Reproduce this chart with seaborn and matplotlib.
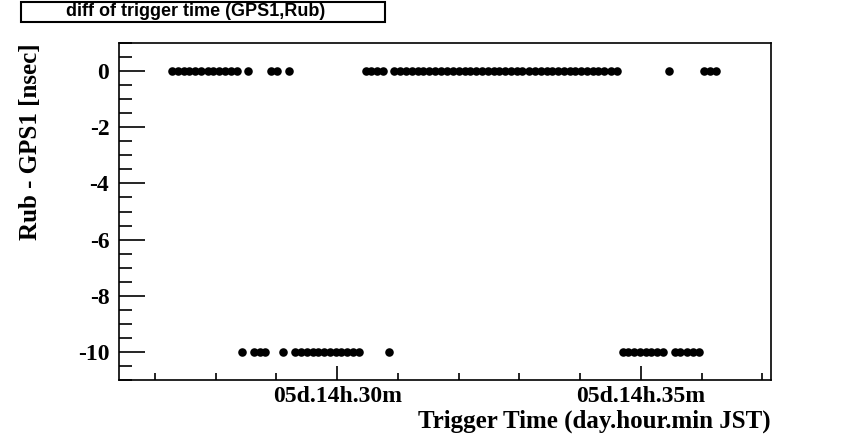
import numpy as np
import pandas as pd
import matplotlib
matplotlib.use("Agg")
import matplotlib.pyplot as plt
import matplotlib.patches as patches
from matplotlib.ticker import MultipleLocator, FixedLocator
import seaborn as sns

sns.set_theme(style="white")
plt.rcParams["font.family"] = ["Liberation Serif", "DejaVu Serif"]
plt.rcParams["font.weight"] = "bold"
plt.rcParams["axes.unicode_minus"] = False
plt.rcParams["text.color"] = "black"
plt.rcParams["axes.labelcolor"] = "black"
plt.rcParams["xtick.color"] = "black"
plt.rcParams["ytick.color"] = "black"

# trigger times, seconds after 14:00 on day 05
trig_sec = [1637, 1643, 1649, 1654, 1660, 1666, 1672, 1677, 1683, 1689,
            1695, 1701, 1706, 1712, 1718, 1724, 1729, 1735, 1741, 1747,
            1752, 1758, 1764, 1770, 1776, 1781, 1787, 1793, 1799, 1804,
            1810, 1816, 1822, 1828, 1833, 1839, 1845, 1851, 1856, 1862,
            1868, 1874, 1880, 1885, 1891, 1897, 1903, 1908, 1914, 1920,
            1926, 1931, 1937, 1943, 1949, 1955, 1960, 1966, 1972, 1978,
            1983, 1989, 1995, 2001, 2007, 2012, 2018, 2024, 2030, 2035,
            2041, 2047, 2053, 2058, 2064, 2070, 2076, 2082, 2087, 2093,
            2099, 2105, 2110, 2116, 2122, 2128, 2134, 2139, 2145, 2151,
            2157, 2162, 2168, 2174]

# Rub - GPS1 [nsec], one per trigger
diff_ns = [0, 0, 0, 0, 0, 0, 0, 0, 0, 0,
           0, 0, -10, 0, -10, -10, -10, 0, 0, -10,
           0, -10, -10, -10, -10, -10, -10, -10, -10, -10,
           -10, -10, -10, 0, 0, 0, 0, -10, 0, 0,
           0, 0, 0, 0, 0, 0, 0, 0, 0, 0,
           0, 0, 0, 0, 0, 0, 0, 0, 0, 0,
           0, 0, 0, 0, 0, 0, 0, 0, 0, 0,
           0, 0, 0, 0, 0, 0, 0, -10, -10, -10,
           -10, -10, -10, -10, -10, 0, -10, -10, -10, -10,
           -10, 0, 0, 0]

major_min = [30, 35]
major_labels = ["05d.14h.30m", "05d.14h.35m"]
minor_min = [27, 28, 29, 31, 32, 33, 34, 36, 37]

df = pd.DataFrame({"minute": np.array(trig_sec) / 60.0, "diff": diff_ns})

fig = plt.figure(figsize=(8.57, 4.37), dpi=100)
ax = fig.add_axes([0.1389, 0.1304, 0.7607, 0.7712])

sns.scatterplot(data=df, x="minute", y="diff", ax=ax, color="black",
                s=38, edgecolor="black", linewidth=0, legend=False)

ax.set_xlim(26.41, 37.14)
ax.set_ylim(-11, 1)

ax.xaxis.set_major_locator(FixedLocator(major_min))
ax.set_xticklabels(major_labels)
ax.xaxis.set_minor_locator(FixedLocator(minor_min))
ax.yaxis.set_major_locator(MultipleLocator(2))
ax.yaxis.set_minor_locator(MultipleLocator(0.5))

ax.tick_params(axis="x", which="major", direction="in", length=10, width=1.2,
               labelsize=17, pad=4, top=False, bottom=True)
ax.tick_params(axis="x", which="minor", direction="in", length=5, width=1.2,
               top=False, bottom=True)
ax.tick_params(axis="y", which="major", direction="in", length=19, width=1.2,
               labelsize=17, pad=7, left=True, right=False)
ax.tick_params(axis="y", which="minor", direction="in", length=9, width=1.2,
               left=True, right=False)
for lab in ax.get_xticklabels() + ax.get_yticklabels():
    lab.set_fontweight("bold")

for sp in ax.spines.values():
    sp.set_color("black")
    sp.set_linewidth(1.2)

ax.set_xlabel("Trigger Time (day.hour.min JST)", fontsize=18,
              fontweight="bold", loc="right")
ax.xaxis.set_label_coords(1.0, -0.088)
ax.set_ylabel("Rub - GPS1 [nsec]", fontsize=18, fontweight="bold",
              loc="top")
ax.yaxis.set_label_coords(-0.118, 1.0)

# title box
fig.patches.append(patches.Rectangle((21 / 857, 1 - 22 / 437), 364 / 857,
                                     20 / 437, transform=fig.transFigure,
                                     facecolor="white", edgecolor="black",
                                     linewidth=1.5))
fig.text(196 / 857, 1 - 12 / 437, "diff of trigger time (GPS1,Rub)",
         ha="center", va="center", fontsize=13, fontweight="bold",
         family=["Liberation Sans", "DejaVu Sans"])

fig.savefig("out.png", dpi=100)
